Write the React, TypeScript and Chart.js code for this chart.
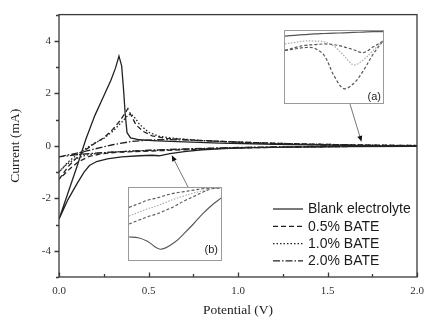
import React, { useEffect, useRef } from "react";
import { Chart, registerables } from "chart.js";
Chart.register(...registerables);

// ---------- main chart data (Potential V, Current mA) ----------
const seriesLabels = ["Blank electrolyte", "0.5% BATE", "1.0% BATE", "2.0% BATE"];

const blankFwdV = [0, 0.05, 0.1, 0.15, 0.2, 0.25, 0.29, 0.315, 0.335, 0.35, 0.36, 0.37, 0.38, 0.4, 0.45, 0.55, 0.7, 0.9, 1.2, 1.5, 1.8, 2.0];
const blankFwdI = [-2.8, -1.8, -0.8, 0.25, 1.15, 1.9, 2.5, 2.95, 3.42, 3.05, 2.2, 1.2, 0.5, 0.3, 0.23, 0.19, 0.15, 0.1, 0.06, 0.03, 0.0, -0.02];
const blankRevV = [2.0, 1.6, 1.3, 1.1, 0.95, 0.8, 0.7, 0.62, 0.56, 0.52, 0.45, 0.35, 0.27, 0.21, 0.17, 0.14, 0.1, 0.05, 0];
const blankRevI = [-0.02, -0.03, -0.05, -0.07, -0.1, -0.15, -0.22, -0.3, -0.38, -0.36, -0.38, -0.42, -0.5, -0.6, -0.75, -1.0, -1.45, -2.05, -2.8];

const bate05FwdV = [0, 0.05, 0.1, 0.15, 0.2, 0.25, 0.3, 0.34, 0.37, 0.385, 0.4, 0.43, 0.47, 0.52, 0.6, 0.8, 1.0, 1.3, 1.6, 2.0];
const bate05FwdI = [-1.28, -0.8, -0.45, -0.15, 0.1, 0.3, 0.62, 0.95, 1.25, 1.42, 1.2, 0.8, 0.55, 0.38, 0.28, 0.2, 0.14, 0.08, 0.04, 0.01];
const bate05RevV = [2.0, 1.7, 1.4, 1.1, 0.9, 0.7, 0.55, 0.42, 0.32, 0.24, 0.17, 0.11, 0.06, 0.0];
const bate05RevI = [0.0, -0.02, -0.04, -0.07, -0.1, -0.15, -0.19, -0.22, -0.25, -0.3, -0.4, -0.6, -0.88, -1.28];

const bate10FwdV = [0, 0.05, 0.1, 0.15, 0.2, 0.25, 0.3, 0.35, 0.38, 0.4, 0.42, 0.45, 0.5, 0.56, 0.65, 0.8, 1.0, 1.3, 1.6, 2.0];
const bate10FwdI = [-1.0, -0.62, -0.35, -0.1, 0.1, 0.28, 0.55, 0.9, 1.12, 1.22, 1.1, 0.82, 0.52, 0.36, 0.28, 0.2, 0.14, 0.08, 0.04, 0.01];
const bate10RevV = [2.0, 1.7, 1.4, 1.1, 0.9, 0.7, 0.55, 0.42, 0.32, 0.22, 0.15, 0.09, 0.04, 0.0];
const bate10RevI = [0.0, -0.02, -0.04, -0.06, -0.09, -0.13, -0.17, -0.2, -0.23, -0.28, -0.36, -0.5, -0.72, -1.0];

const bate20FwdV = [0, 0.1, 0.2, 0.3, 0.4, 0.5, 0.6, 0.8, 1.0, 1.2, 1.5, 1.8, 2.0];
const bate20FwdI = [-0.42, -0.28, -0.12, 0.04, 0.16, 0.22, 0.24, 0.2, 0.14, 0.08, 0.03, 0.01, 0.0];
const bate20RevV = [2.0, 1.7, 1.4, 1.1, 0.9, 0.7, 0.5, 0.35, 0.2, 0.1, 0.0];
const bate20RevI = [0.0, -0.02, -0.03, -0.05, -0.08, -0.12, -0.17, -0.22, -0.28, -0.34, -0.42];

// arrow tips (data coords) pointing at the zoomed regions
const arrowTipA = { v: 1.69, i: 0.15 };
const arrowTipB = { v: 0.63, i: -0.36 };

// ---------- inset data (normalised window coordinates) ----------
const insetGrid = [0, 0.1, 0.2, 0.3, 0.4, 0.5, 0.6, 0.7, 0.8, 0.9, 1.0];
const insetASolid = [0.93, 0.94, 0.95, 0.96, 0.965, 0.97, 0.975, 0.98, 0.985, 0.99, 0.99];
const insetADotted = [0.82, 0.84, 0.86, 0.86, 0.85, 0.79, 0.66, 0.53, 0.6, 0.73, 0.86];
const insetADashed = [0.73, 0.77, 0.8, 0.81, 0.82, 0.81, 0.78, 0.74, 0.7, 0.78, 0.86];
const insetADeep = [0.73, 0.75, 0.77, 0.76, 0.66, 0.38, 0.2, 0.27, 0.45, 0.68, 0.86];

const insetBUpper = [0.73, 0.78, 0.83, 0.86, 0.9, 0.93, 0.95, 0.97, 0.99, 1.0, 1.0];
const insetBDotted = [0.61, 0.66, 0.71, 0.75, 0.8, 0.85, 0.89, 0.93, 0.96, 0.99, 1.0];
const insetBLower = [0.5, 0.55, 0.6, 0.64, 0.69, 0.75, 0.82, 0.88, 0.94, 0.99, 1.0];
const insetBSolidX = [0, 0.1, 0.2, 0.34, 0.5, 0.6, 0.7, 0.8, 0.9, 1.0];
const insetBSolidY = [0.32, 0.31, 0.26, 0.15, 0.25, 0.37, 0.5, 0.64, 0.76, 0.86];

// ---------- styles ----------
const lineColor = "#222";
const dashes: number[][] = [[], [5, 3], [1.5, 2], [7, 2, 1.5, 2]];
const serif = '"Liberation Serif", "Times New Roman", serif';
const sans = '"Liberation Sans", Arial, sans-serif';

const boxA = { left: 284, top: 30, width: 100, height: 74 };
const boxB = { left: 128, top: 187, width: 94, height: 74 };

function pts(xs: number[], ys: number[]) {
  return xs.map((x, i) => ({ x, y: ys[i] }));
}
function loop(fv: number[], fi: number[], rv: number[], ri: number[]) {
  return [...pts(fv, fi), ...pts(rv, ri)];
}

const mainSeries = [
  loop(blankFwdV, blankFwdI, blankRevV, blankRevI),
  loop(bate05FwdV, bate05FwdI, bate05RevV, bate05RevI),
  loop(bate10FwdV, bate10FwdI, bate10RevV, bate10RevI),
  loop(bate20FwdV, bate20FwdI, bate20RevV, bate20RevI),
];

function drawArrow(ctx: CanvasRenderingContext2D, x1: number, y1: number, x2: number, y2: number) {
  const ang = Math.atan2(y2 - y1, x2 - x1);
  const hl = 6, hw = 2.5;
  ctx.save();
  ctx.strokeStyle = "#777";
  ctx.lineWidth = 1;
  ctx.setLineDash([]);
  ctx.beginPath();
  ctx.moveTo(x1, y1);
  ctx.lineTo(x2 - Math.cos(ang) * hl, y2 - Math.sin(ang) * hl);
  ctx.stroke();
  ctx.fillStyle = "#111";
  ctx.beginPath();
  ctx.moveTo(x2, y2);
  ctx.lineTo(x2 - Math.cos(ang) * hl - Math.sin(ang) * hw, y2 - Math.sin(ang) * hl + Math.cos(ang) * hw);
  ctx.lineTo(x2 - Math.cos(ang) * hl + Math.sin(ang) * hw, y2 - Math.sin(ang) * hl - Math.cos(ang) * hw);
  ctx.closePath();
  ctx.fill();
  ctx.restore();
}

const framePlugin = {
  id: "frameTicksLegend",
  afterDraw(chart: any) {
    const { ctx, chartArea: a, scales } = chart;
    const x = scales.x, y = scales.y;
    ctx.save();
    ctx.strokeStyle = "#3a3a3a";
    ctx.lineWidth = 1.3;
    ctx.setLineDash([]);
    ctx.strokeRect(a.left, a.top, a.right - a.left, a.bottom - a.top);
    ctx.beginPath();
    for (let k = -5; k <= 5; k++) {
      const py = Math.round(y.getPixelForValue(k)) + 0.5;
      const len = k % 2 === 0 ? 4.5 : 3;
      ctx.moveTo(a.left - len, py);
      ctx.lineTo(a.left, py);
    }
    for (let k = 0; k <= 8; k++) {
      const px = Math.round(x.getPixelForValue(k * 0.25)) + 0.5;
      const len = k % 2 === 0 ? 4.5 : 3;
      ctx.moveTo(px, a.bottom);
      ctx.lineTo(px, a.bottom - len);
    }
    ctx.stroke();

    // arrows from inset boxes to the zoomed spots
    drawArrow(ctx, boxA.left + 66, boxA.top + boxA.height, x.getPixelForValue(arrowTipA.v), y.getPixelForValue(arrowTipA.i));
    drawArrow(ctx, boxB.left + 60, boxB.top, x.getPixelForValue(arrowTipB.v), y.getPixelForValue(arrowTipB.i));

    // legend
    const lx = a.right - 144;
    const ly = a.bottom - 68;
    ctx.font = `14px ${sans}`;
    ctx.textBaseline = "middle";
    ctx.textAlign = "left";
    chart.data.datasets.forEach((ds: any, i: number) => {
      const yy = ly + i * 17.3;
      ctx.strokeStyle = lineColor;
      ctx.lineWidth = 1.2;
      ctx.setLineDash(ds.borderDash || []);
      ctx.beginPath();
      ctx.moveTo(lx, yy);
      ctx.lineTo(lx + 30, yy);
      ctx.stroke();
      ctx.setLineDash([]);
      ctx.fillStyle = "#1a1a1a";
      ctx.fillText(ds.label, lx + 35, yy + 0.5);
    });
    ctx.restore();
  },
};

function MainChart() {
  const ref = useRef<HTMLCanvasElement | null>(null);
  useEffect(() => {
    const chart = new Chart(ref.current as HTMLCanvasElement, {
      type: "scatter",
      data: {
        datasets: mainSeries.map((d, i) => ({
          label: seriesLabels[i],
          data: d,
          showLine: true,
          borderColor: lineColor,
          borderWidth: 1.3,
          borderDash: dashes[i],
          pointRadius: 0,
          tension: 0,
          fill: false,
        })),
      },
      options: {
        animation: false,
        responsive: false,
        events: [],
        layout: { padding: { left: 0, right: 15, top: 11, bottom: 0 } },
        plugins: { legend: { display: false }, tooltip: { enabled: false } },
        scales: {
          x: {
            type: "linear",
            min: 0,
            max: 2,
            grid: { display: false, drawTicks: false },
            border: { display: false },
            ticks: {
              stepSize: 0.25,
              autoSkip: false,
              maxRotation: 0,
              padding: 8,
              color: "#333",
              font: { family: serif, size: 11 },
              callback: (v: any) => (Math.abs(v * 2 - Math.round(v * 2)) < 1e-9 ? Number(v).toFixed(1) : ""),
            },
            title: {
              display: true,
              text: "Potential (V)",
              color: "#222",
              font: { family: serif, size: 13.5 },
              padding: { top: 0, bottom: 11 },
            },
            afterFit: (s: any) => {
              s.height = 53;
            },
          },
          y: {
            type: "linear",
            min: -5,
            max: 5,
            grid: { display: false, drawTicks: false },
            border: { display: false },
            ticks: {
              stepSize: 1,
              autoSkip: false,
              padding: 8,
              color: "#333",
              font: { family: serif, size: 11 },
              callback: (v: any) => (Number(v) % 2 === 0 ? String(v) : ""),
            },
            title: {
              display: true,
              text: "Current (mA)",
              color: "#222",
              font: { family: serif, size: 13.5 },
              padding: { top: 7, bottom: 0 },
            },
            afterFit: (s: any) => {
              s.width = 59;
            },
          },
        },
      },
      plugins: [framePlugin],
    } as any);
    return () => chart.destroy();
  }, []);
  return <canvas ref={ref} width={432} height={330} style={{ position: "absolute", left: 0, top: 0 }} />;
}

type InsetSeries = { data: { x: number; y: number }[]; color: string; dash: number[]; width: number };

function Inset({ box, series, label, labelOffset }: { box: typeof boxA; series: InsetSeries[]; label: string; labelOffset: { r: number; b: number } }) {
  const ref = useRef<HTMLCanvasElement | null>(null);
  useEffect(() => {
    const labelPlugin = {
      id: "insetLabel",
      afterDraw(chart: any) {
        const { ctx, width, height } = chart;
        ctx.save();
        ctx.font = `11px ${sans}`;
        ctx.fillStyle = "#222";
        ctx.textAlign = "right";
        ctx.textBaseline = "middle";
        ctx.fillText(label, width - labelOffset.r, height - labelOffset.b);
        ctx.restore();
      },
    };
    const chart = new Chart(ref.current as HTMLCanvasElement, {
      type: "scatter",
      data: {
        datasets: series.map((s) => ({
          data: s.data,
          showLine: true,
          borderColor: s.color,
          borderWidth: s.width,
          borderDash: s.dash,
          pointRadius: 0,
          tension: 0.35,
          fill: false,
          clip: false,
        })),
      },
      options: {
        animation: false,
        responsive: false,
        events: [],
        layout: { padding: 0 },
        plugins: { legend: { display: false }, tooltip: { enabled: false } },
        scales: {
          x: { type: "linear", display: false, min: 0, max: 1 },
          y: { type: "linear", display: false, min: 0, max: 1 },
        },
      },
      plugins: [labelPlugin],
    } as any);
    return () => chart.destroy();
  }, []);
  return (
    <div
      style={{
        position: "absolute",
        left: box.left,
        top: box.top,
        width: box.width,
        height: box.height,
        border: "1px solid #9a9a9a",
        background: "#fff",
        boxSizing: "border-box",
        overflow: "hidden",
      }}
    >
      <canvas ref={ref} width={box.width - 2} height={box.height - 2} style={{ display: "block" }} />
    </div>
  );
}

const insetASeries: InsetSeries[] = [
  { data: pts(insetGrid, insetASolid), color: "#555", dash: [], width: 1.2 },
  { data: pts(insetGrid, insetADotted), color: "#aaa", dash: [1.5, 1.5], width: 1.2 },
  { data: pts(insetGrid, insetADashed), color: "#555", dash: [3, 2], width: 1.2 },
  { data: pts(insetGrid, insetADeep), color: "#555", dash: [3, 2], width: 1.2 },
];
const insetBSeries: InsetSeries[] = [
  { data: pts(insetGrid, insetBUpper), color: "#555", dash: [3, 2], width: 1.1 },
  { data: pts(insetGrid, insetBDotted), color: "#aaa", dash: [1.5, 1.5], width: 1.1 },
  { data: pts(insetGrid, insetBLower), color: "#555", dash: [3, 2], width: 1.1 },
  { data: pts(insetBSolidX, insetBSolidY), color: "#555", dash: [], width: 1.1 },
];

export default function App() {
  return (
    <div style={{ position: "fixed", left: 0, top: 0, width: 432, height: 330, background: "#fff" }}>
      <MainChart />
      <Inset box={boxA} series={insetASeries} label="(a)" labelOffset={{ r: 2, b: 6 }} />
      <Inset box={boxB} series={insetBSeries} label="(b)" labelOffset={{ r: 3, b: 10 }} />
    </div>
  );
}
